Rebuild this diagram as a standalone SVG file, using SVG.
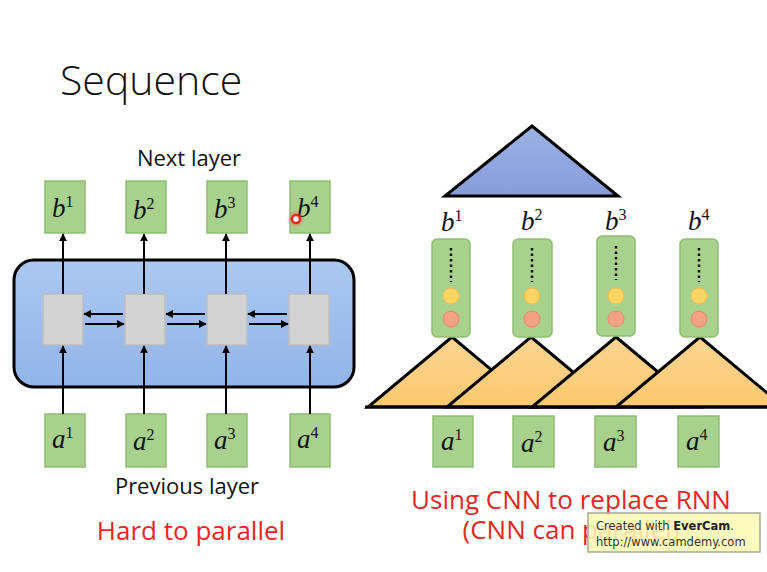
<svg xmlns="http://www.w3.org/2000/svg" width="767" height="572" viewBox="0 0 767 572">
  <defs>
    <marker id="arrow" viewBox="0 0 10 10" refX="9" refY="5" markerWidth="4" markerHeight="4" orient="auto">
      <path d="M0,0 L10,5 L0,10 z" fill="#000"/>
    </marker>
    <linearGradient id="rnnFill" x1="0" y1="0" x2="0" y2="1">
      <stop offset="0" stop-color="#abc8f0"/>
      <stop offset="1" stop-color="#92b4e8"/>
    </linearGradient>
    <linearGradient id="topFill" x1="0" y1="0" x2="0" y2="1">
      <stop offset="0" stop-color="#9cb3e6"/>
      <stop offset="1" stop-color="#859cd8"/>
    </linearGradient>
    <linearGradient id="convFill" x1="0" y1="0" x2="0" y2="1">
      <stop offset="0" stop-color="#fcd592"/>
      <stop offset="1" stop-color="#fbc86f"/>
    </linearGradient>
    <radialGradient id="cursorGlow">
      <stop offset="0" stop-color="#ff4040" stop-opacity="0.8"/>
      <stop offset="1" stop-color="#ff4040" stop-opacity="0"/>
    </radialGradient>
  </defs>
  <style>
    .box { fill: #a9d18e; stroke: #8fbd72; stroke-width: 1.5; }
    .cell { fill: #d3d3d3; stroke: #bdbdbd; stroke-width: 1.5; }
    .math { font-family: "Liberation Serif", "DejaVu Serif", serif; font-style: italic; font-size: 27px; fill: #111; }
    .sup { font-size: 16px; font-style: normal; }
    .label { font-family: "Open Sans", "Liberation Sans", sans-serif; font-size: 22px; fill: #111; }
    .red { font-family: "Open Sans", "Liberation Sans", sans-serif; font-size: 26px; fill: #e8261f; }
    .conn line { stroke: #000; stroke-width: 2; marker-end: url(#arrow); }
    .tri { stroke: #000; stroke-width: 3; stroke-linejoin: miter; }
    .badge-text { font-family: "DejaVu Sans", "Liberation Sans", sans-serif; font-size: 11.5px; fill: #333; }
  </style>

  <rect width="767" height="572" fill="#fff"/>

  <!-- title -->
  <text x="60" y="95" font-family="Open Sans, Liberation Sans, sans-serif" font-weight="300" font-size="41" fill="#111">Sequence</text>

  <!-- ===== RNN side ===== -->
  <g id="rnn-block">
    <rect x="14" y="260" width="340" height="127" rx="20" fill="url(#rnnFill)" stroke="#000" stroke-width="3"/>
  </g>
  <g id="cells">
    <rect class="cell" x="43" y="294" width="40" height="51"/>
    <rect class="cell" x="125" y="294" width="40" height="51"/>
    <rect class="cell" x="207" y="294" width="40" height="51"/>
    <rect class="cell" x="289" y="294" width="40" height="51"/>
  </g>

  <g id="rnn-outputs">
    <g id="rnn-b1"><rect class="box" x="45" y="181" width="40" height="52"/><text class="math" x="52" y="217">b<tspan class="sup" dy="-10">1</tspan></text></g>
    <g id="rnn-b2"><rect class="box" x="126" y="181" width="40" height="52"/><text class="math" x="133" y="219">b<tspan class="sup" dy="-10">2</tspan></text></g>
    <g id="rnn-b3"><rect class="box" x="207" y="181" width="40" height="52"/><text class="math" x="214" y="218">b<tspan class="sup" dy="-10">3</tspan></text></g>
    <g id="rnn-b4"><rect class="box" x="290" y="181" width="40" height="52"/><text class="math" x="297" y="217">b<tspan class="sup" dy="-10">4</tspan></text></g>
  </g>

  <g id="rnn-inputs">
    <g id="rnn-a1"><rect class="box" x="45" y="414" width="40" height="53"/><text class="math" x="52" y="448">a<tspan class="sup" dy="-10">1</tspan></text></g>
    <g id="rnn-a2"><rect class="box" x="126" y="414" width="40" height="53"/><text class="math" x="133" y="450">a<tspan class="sup" dy="-10">2</tspan></text></g>
    <g id="rnn-a3"><rect class="box" x="207" y="414" width="40" height="53"/><text class="math" x="214" y="449">a<tspan class="sup" dy="-10">3</tspan></text></g>
    <g id="rnn-a4"><rect class="box" x="290" y="414" width="40" height="53"/><text class="math" x="297" y="448">a<tspan class="sup" dy="-10">4</tspan></text></g>
  </g>

  <g id="connectors" class="conn">
    <!-- inputs into cells -->
    <line x1="63" y1="414" x2="63" y2="346"/>
    <line x1="144" y1="414" x2="144" y2="346"/>
    <line x1="226" y1="414" x2="226" y2="346"/>
    <line x1="310" y1="414" x2="310" y2="346"/>
    <!-- cells to outputs -->
    <line x1="63" y1="294" x2="63" y2="234"/>
    <line x1="144" y1="294" x2="144" y2="234"/>
    <line x1="226" y1="294" x2="226" y2="234"/>
    <line x1="310" y1="294" x2="310" y2="234"/>
    <!-- backward links -->
    <line x1="123" y1="314" x2="84" y2="314"/>
    <line x1="205" y1="314" x2="166" y2="314"/>
    <line x1="287" y1="314" x2="248" y2="314"/>
    <!-- forward links -->
    <line x1="85" y1="324" x2="124" y2="324"/>
    <line x1="167" y1="324" x2="206" y2="324"/>
    <line x1="249" y1="324" x2="288" y2="324"/>
  </g>

  <text class="label" x="189" y="166" text-anchor="middle">Next layer</text>
  <text class="label" x="187" y="494" text-anchor="middle">Previous layer</text>
  <text class="red" x="191" y="540" text-anchor="middle">Hard to parallel</text>

  <!-- pointer highlight -->
  <g id="pointer">
    <circle cx="296" cy="219" r="9" fill="url(#cursorGlow)"/>
    <circle cx="296" cy="219" r="4" fill="#fff" stroke="#e8261f" stroke-width="2.5"/>
  </g>

  <!-- ===== CNN side ===== -->
  <g id="top-filter">
    <polygon class="tri" points="532,126 618,196 445,196" fill="url(#topFill)"/>
  </g>

  <g id="conv-filters">
    <polygon class="tri" points="452,337 536,407 368,407" fill="url(#convFill)"/>
    <polygon class="tri" points="531,337 615,407 447,407" fill="url(#convFill)"/>
    <polygon class="tri" points="616,337 700,407 532,407" fill="url(#convFill)"/>
    <polygon class="tri" points="700,337 784,407 616,407" fill="url(#convFill)"/>
    <line x1="365" y1="407" x2="767" y2="407" stroke="#000" stroke-width="3"/>
  </g>

  <g id="cnn-outputs">
    <g id="cnn-b1">
      <text class="math" x="441" y="231">b<tspan class="sup" dy="-10">1</tspan></text>
      <rect class="box" x="432" y="239" width="38" height="98" rx="5"/>
      <line x1="451" y1="248" x2="451" y2="282" stroke="#111" stroke-width="2.5" stroke-dasharray="2.5 3"/>
      <circle cx="451" cy="296" r="8" fill="#fdd565" stroke="#f0bc50" stroke-width="1"/>
      <circle cx="451" cy="319" r="8" fill="#f5a284" stroke="#e8876a" stroke-width="1"/>
    </g>
    <g id="cnn-b2">
      <text class="math" x="521" y="230">b<tspan class="sup" dy="-10">2</tspan></text>
      <rect class="box" x="513" y="239" width="39" height="98" rx="5"/>
      <line x1="532" y1="248" x2="532" y2="282" stroke="#111" stroke-width="2.5" stroke-dasharray="2.5 3"/>
      <circle cx="532" cy="296" r="8" fill="#fdd565" stroke="#f0bc50" stroke-width="1"/>
      <circle cx="532" cy="319" r="8" fill="#f5a284" stroke="#e8876a" stroke-width="1"/>
    </g>
    <g id="cnn-b3">
      <text class="math" x="605" y="230">b<tspan class="sup" dy="-10">3</tspan></text>
      <rect class="box" x="597" y="236" width="38" height="100" rx="5"/>
      <line x1="616" y1="246" x2="616" y2="280" stroke="#111" stroke-width="2.5" stroke-dasharray="2.5 3"/>
      <circle cx="616" cy="296" r="8" fill="#fdd565" stroke="#f0bc50" stroke-width="1"/>
      <circle cx="616" cy="319" r="8" fill="#f5a284" stroke="#e8876a" stroke-width="1"/>
    </g>
    <g id="cnn-b4">
      <text class="math" x="688" y="230">b<tspan class="sup" dy="-10">4</tspan></text>
      <rect class="box" x="680" y="239" width="38" height="98" rx="5"/>
      <line x1="699" y1="248" x2="699" y2="282" stroke="#111" stroke-width="2.5" stroke-dasharray="2.5 3"/>
      <circle cx="699" cy="296" r="8" fill="#fdd565" stroke="#f0bc50" stroke-width="1"/>
      <circle cx="699" cy="319" r="8" fill="#f5a284" stroke="#e8876a" stroke-width="1"/>
    </g>
  </g>

  <g id="cnn-inputs">
    <g id="cnn-a1"><rect class="box" x="433" y="416" width="40" height="51"/><text class="math" x="441" y="450">a<tspan class="sup" dy="-10">1</tspan></text></g>
    <g id="cnn-a2"><rect class="box" x="513" y="416" width="41" height="51"/><text class="math" x="521" y="452">a<tspan class="sup" dy="-10">2</tspan></text></g>
    <g id="cnn-a3"><rect class="box" x="595" y="416" width="41" height="51"/><text class="math" x="603" y="451">a<tspan class="sup" dy="-10">3</tspan></text></g>
    <g id="cnn-a4"><rect class="box" x="678" y="416" width="41" height="51"/><text class="math" x="686" y="450">a<tspan class="sup" dy="-10">4</tspan></text></g>
  </g>

  <text class="red" x="571" y="509" text-anchor="middle">Using CNN to replace RNN</text>
  <text class="red" x="571" y="539" text-anchor="middle">(CNN can parallel)</text>

  <!-- recorder badge, translucent over the caption -->
  <g id="badge">
    <rect x="588" y="513" width="172" height="39" fill="#fcf9b4" fill-opacity="0.88" stroke="#a8a890" stroke-width="1.5"/>
    <text class="badge-text" x="596" y="530">Created with <tspan font-weight="bold" fill="#222">EverCam</tspan>.</text>
    <text class="badge-text" x="596" y="546">http://www.camdemy.com</text>
  </g>
</svg>
